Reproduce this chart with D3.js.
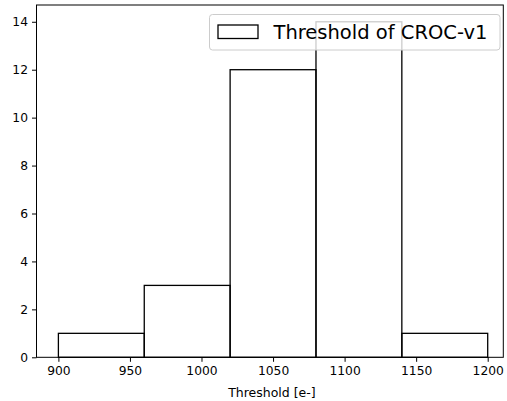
<!DOCTYPE html>
<html>
<head>
<meta charset="utf-8">
<script src="https://cdn.jsdelivr.net/npm/d3@7"></script>
<style>
  html, body { margin: 0; padding: 0; background: #fff; }
  svg text { font-family: "DejaVu Sans", sans-serif; fill: #000; }
</style>
</head>
<body>
<svg id="chart" width="507" height="401"></svg>
<script>
// Histogram bin edges and counts
const binEdges = [900, 960, 1020, 1080, 1140, 1200];
const counts = [1, 3, 12, 14, 1];
const xTicks = [900, 950, 1000, 1050, 1100, 1150, 1200];
const yTicks = [0, 2, 4, 6, 8, 10, 12, 14];
const xLabel = "Threshold [e-]";
const legendLabel = "Threshold of CROC-v1";

const svg = d3.select("#chart");
const plot = { left: 36.5, right: 503.3, top: 5, bottom: 357.3 };

const x = d3.scaleLinear().domain([884.7, 1210.9]).range([plot.left, plot.right]);
const y = d3.scaleLinear().domain([0, 14.7]).range([plot.bottom, plot.top]);

const bins = counts.map((c, i) => ({ x0: binEdges[i], x1: binEdges[i + 1], count: c }));

// Bars: unfilled, black outline
svg.append("g")
  .selectAll("rect")
  .data(bins)
  .join("rect")
  .attr("x", d => x(d.x0))
  .attr("y", d => y(d.count))
  .attr("width", d => x(d.x1) - x(d.x0))
  .attr("height", d => y(0) - y(d.count))
  .attr("fill", "none")
  .attr("stroke", "#000")
  .attr("stroke-width", 1.3);

// Axes
const xAxis = svg.append("g")
  .attr("transform", `translate(0,${plot.bottom})`)
  .call(d3.axisBottom(x).tickValues(xTicks).tickFormat(d3.format("d")).tickSize(4.5).tickPadding(4));
const yAxis = svg.append("g")
  .attr("transform", `translate(${plot.left},0)`)
  .call(d3.axisLeft(y).tickValues(yTicks).tickFormat(d3.format("d")).tickSize(4.5).tickPadding(4));

[xAxis, yAxis].forEach(g => {
  g.select(".domain").remove();
  g.selectAll("line").attr("stroke", "#000").attr("stroke-width", 1);
  g.selectAll("text").attr("font-size", 12.3).attr("font-family", "DejaVu Sans").attr("fill", "#000");
});

// Frame around the plot area
svg.append("rect")
  .attr("x", plot.left).attr("y", plot.top)
  .attr("width", plot.right - plot.left).attr("height", plot.bottom - plot.top)
  .attr("fill", "none").attr("stroke", "#000").attr("stroke-width", 1);

// X-axis title
svg.append("text")
  .attr("x", (plot.left + plot.right) / 2 + 2)
  .attr("y", 396.5)
  .attr("text-anchor", "middle")
  .attr("font-size", 12.5)
  .text(xLabel);

// Legend
const legend = svg.append("g");
legend.append("rect")
  .attr("x", 209.5).attr("y", 14.5).attr("width", 290.5).attr("height", 35.5)
  .attr("rx", 3).attr("ry", 3)
  .attr("fill", "#fff").attr("fill-opacity", 0.8)
  .attr("stroke", "#ccc").attr("stroke-width", 1);
legend.append("rect")
  .attr("x", 218).attr("y", 25).attr("width", 40).attr("height", 13.5)
  .attr("fill", "none").attr("stroke", "#000").attr("stroke-width", 1.3);
legend.append("text")
  .attr("x", 273.5).attr("y", 38.5)
  .attr("font-size", 19.5)
  .text(legendLabel);
</script>
</body>
</html>
